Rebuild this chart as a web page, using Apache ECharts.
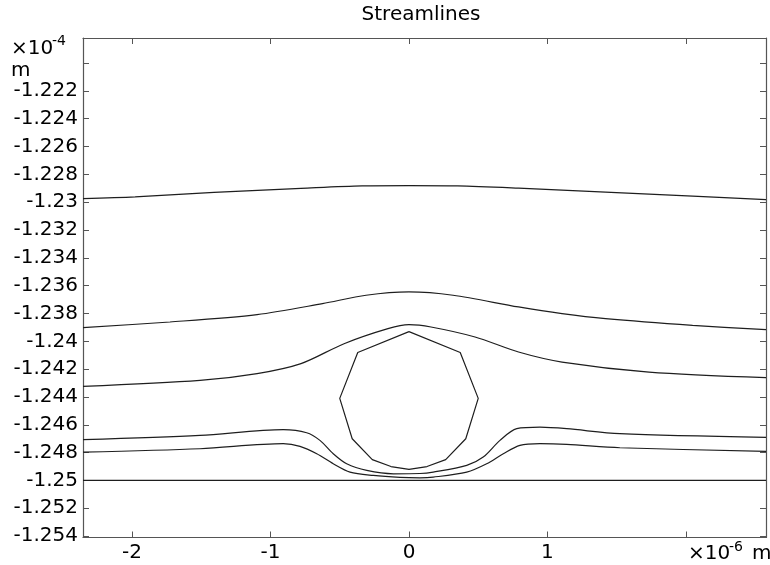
<!DOCTYPE html>
<html><head><meta charset="utf-8">
<script src="https://cdn.jsdelivr.net/npm/echarts@6/dist/echarts.min.js"></script>
<style>html,body{margin:0;padding:0;background:#fff}#c{width:770px;height:565px}</style>
</head><body><div id="c"></div>
<script>
// x in units of 1e-6 m, y in units of 1e-4 m
const xMin = -2.354, xMax = 2.578;
const yMin = -1.2541, yMax = -1.2182;
const xTicks = [-2, -1, 0, 1, 2];
const xLabelTicks = [-2, -1, 0, 1];
const yTicks = [-1.254,-1.252,-1.25,-1.248,-1.246,-1.244,-1.242,-1.24,-1.238,-1.236,-1.234,-1.232,-1.23,-1.228,-1.226,-1.224,-1.222,-1.22];
const yLabelTicks = [-1.254,-1.252,-1.25,-1.248,-1.246,-1.244,-1.242,-1.24,-1.238,-1.236,-1.234,-1.232,-1.23,-1.228,-1.226,-1.224,-1.222];

const s1x = [-2.354,-1.978,-1.408,-0.780,-0.339,0,0.351,0.791,1.419,2.048,2.578];
const s1y = [-1.22975,-1.22962,-1.22930,-1.22901,-1.22883,-1.22881,-1.22883,-1.22899,-1.22928,-1.22957,-1.22981];

const s2x = [-2.354,-1.726,-1.097,-0.625,-0.310,0,0.318,0.791,1.105,1.419,2.048,2.578];
const s2y = [-1.23901,-1.23861,-1.23808,-1.23729,-1.23669,-1.23645,-1.23669,-1.23753,-1.23801,-1.23837,-1.23885,-1.23916];

const s3x = [-2.354,-1.509,-1.097,-0.780,-0.469,-0.152,0,0.159,0.477,0.791,1.105,1.733,2.578];
const s3y = [-1.24324,-1.24281,-1.24232,-1.24160,-1.24017,-1.23909,-1.23880,-1.23897,-1.23969,-1.24077,-1.24149,-1.24221,-1.24261];

const s4x = [-2.354,-1.509,-0.908,-0.739,-0.643,-0.547,-0.450,-0.305,-0.113,0.079,0.175,0.417,0.536,0.657,0.778,0.946,1.139,1.523,2.578];
const s4y = [-1.24707,-1.24676,-1.24635,-1.24657,-1.24712,-1.24808,-1.24880,-1.24928,-1.24952,-1.24950,-1.24940,-1.24892,-1.24832,-1.24712,-1.24628,-1.24617,-1.24628,-1.24664,-1.24691];

const s5x = [-2.354,-1.509,-0.908,-0.787,-0.666,-0.547,-0.426,-0.258,-0.065,0.079,0.175,0.417,0.561,0.681,0.801,0.946,1.139,1.523,2.578];
const s5y = [-1.24796,-1.24772,-1.24736,-1.24755,-1.24808,-1.24880,-1.24940,-1.24964,-1.24978,-1.24981,-1.24976,-1.24940,-1.24880,-1.24808,-1.24748,-1.24736,-1.24741,-1.24765,-1.24791];

const wallX = [-2.354, 2.578];
const wallY = [-1.25, -1.25];

const obstX = [0, 0.37, 0.50, 0.41, 0.265, 0.13, 0, -0.13, -0.265, -0.41, -0.50, -0.37, 0];
const obstY = [-1.2393,-1.2408,-1.2441,-1.2470,-1.2485,-1.2490,-1.2492,-1.2490,-1.2485,-1.2470,-1.2441,-1.2408,-1.2393];

const zip = (xs, ys) => xs.map((x, i) => [x, ys[i]]);
const FONT = 'DejaVu Sans';
const LINE = '#1e1e1e';
const AX = '#555';
const FS = 20;

function lineSeries(xs, ys, smooth) {
  return { type: 'line', data: zip(xs, ys), showSymbol: false, symbol: 'none', smooth: smooth,
    lineStyle: { color: LINE, width: 1.2 }, silent: true, clip: true };
}
function axisBase(pos, ticks, labels, isX) {
  const a = { type: 'value', position: pos,
    min: isX ? xMin : yMin, max: isX ? xMax : yMax,
    axisLine: { show: true, onZero: false, lineStyle: { color: AX, width: 1.2 } },
    axisTick: { show: true, inside: true, length: 6, customValues: ticks, lineStyle: { color: AX } },
    splitLine: { show: false } };
  if (labels) {
    a.axisLabel = { customValues: labels, fontFamily: FONT, fontSize: FS, color: '#000', margin: 5 };
    if (!isX) a.axisLabel.formatter = v => String(parseFloat(Number(v).toFixed(3)));
  } else {
    a.axisLabel = { show: false };
  }
  return a;
}

const chart = echarts.init(document.getElementById('c'), null, { renderer: 'canvas' });
chart.setOption({
  animation: false,
  backgroundColor: '#fff',
  title: { text: 'Streamlines', left: 416, top: 0, textAlign: 'center',
    textStyle: { fontFamily: FONT, fontSize: FS, fontWeight: 'normal', color: '#000' } },
  grid: { left: 83, right: 4, top: 38, bottom: 27.5 },
  xAxis: [ axisBase('bottom', xTicks, xLabelTicks, true), axisBase('top', xTicks, null, true) ],
  yAxis: [ axisBase('left', yTicks, yLabelTicks, false), axisBase('right', yTicks, null, false) ],
  graphic: [
    { type: 'text', left: 11, top: 39, style: { text: '×10', font: '20px "DejaVu Sans"', fill: '#000' } },
    { type: 'text', left: 52, top: 34, style: { text: '-4', font: '14px "DejaVu Sans"', fill: '#000' } },
    { type: 'text', left: 11, top: 61, style: { text: 'm', font: '20px "DejaVu Sans"', fill: '#000' } },
    { type: 'text', left: 688, top: 544, style: { text: '×10', font: '20px "DejaVu Sans"', fill: '#000' } },
    { type: 'text', left: 729, top: 540, style: { text: '-6', font: '14px "DejaVu Sans"', fill: '#000' } },
    { type: 'text', left: 752, top: 544, style: { text: 'm', font: '20px "DejaVu Sans"', fill: '#000' } }
  ],
  series: [
    lineSeries(s1x, s1y, 0.3),
    lineSeries(s2x, s2y, 0.3),
    lineSeries(s3x, s3y, 0.3),
    lineSeries(s4x, s4y, 0.3),
    lineSeries(s5x, s5y, 0.3),
    lineSeries(wallX, wallY, false),
    lineSeries(obstX, obstY, false)
  ]
});
</script></body></html>
